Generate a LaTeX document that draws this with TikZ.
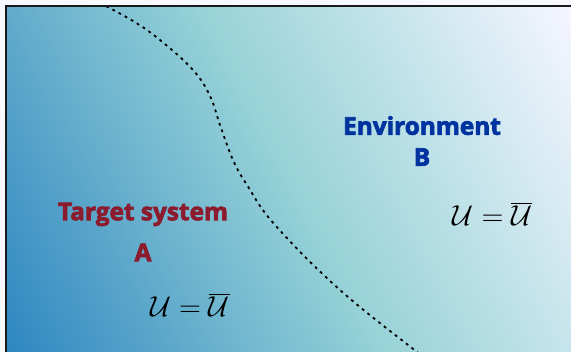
\documentclass[tikz,border=0pt]{standalone}
\usepackage{fontspec}
\setmainfont{Open Sans}
\definecolor{bgpage}{HTML}{F8F8FF}
\definecolor{cLL}{HTML}{2E86C1}
\definecolor{cMid}{HTML}{96D2D7}
\definecolor{cUR}{HTML}{F6F6FF}
\definecolor{tred}{HTML}{8C1B2D}
\definecolor{eblue}{HTML}{0033A0}
\newcommand\heavyon{\special{pdf:literal direct 2 Tr 0.35 w}}
\newcommand\heavyoff{\special{pdf:literal direct 0 Tr 0 w}}
\tikzset{
  lbl/.style={font=\fontsize{12.2}{16}\selectfont\bfseries, align=center, inner sep=0pt},
  formula/.style={font=\fontsize{14}{16}\selectfont, inner sep=0pt},
  border/.style={draw=black!90, line width=0.75pt},
  boundary/.style={line width=0.9pt, dash pattern=on 1.4pt off 2.1pt}
}
\begin{document}
\begin{tikzpicture}[x=0.5pt,y=-0.5pt]
\useasboundingbox (0,0) rectangle (571,352);
\fill[bgpage] (0,0) rectangle (571,352);
\coordinate (ctr) at (288.5,179);
\begin{scope}
\clip (6,6) rectangle (571,352);
\begin{scope}[transform canvas={rotate around={28:(ctr)}}]
\shade[left color=cLL, right color=cUR, middle color=cMid] (-42.5,-111) rectangle (619.5,469);
\end{scope}
\draw[boundary] plot[smooth, tension=0.65] coordinates {(100,3) (133,21) (160,40) (193,70) (210,96) (220,125) (233,160) (247,185) (275,225) (340,290) (417,352) (425,358)};
\end{scope}
\draw[border] (571,6) -- (6,6) -- (6,352);
\node[lbl, text=tred] (ta) at (143,232) {\heavyon Target system\\[4.5pt]A\heavyoff};
\node[lbl, text=eblue] (eb) at (422,141) {\heavyon Environment\\[-0.5pt]B\heavyoff};
\node[formula] (fa) at (190,305) {$\mathcal{U}=\overline{\mathcal{U}}$};
\node[formula] (fb) at (492.5,214) {$\mathcal{U}=\overline{\mathcal{U}}$};
\end{tikzpicture}
\end{document}
